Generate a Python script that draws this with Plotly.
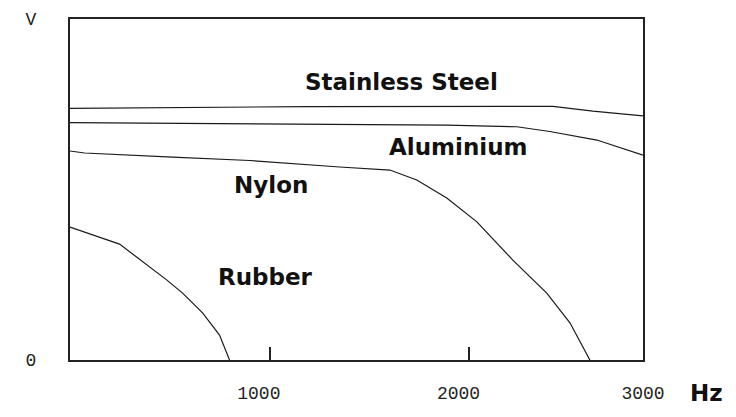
import plotly.graph_objects as go

# ---- data (Hz, relative V) ----
steel_hz = [0, 1190, 2419, 2619, 2870]
steel_v = [73.8, 74.3, 74.4, 73.0, 71.6]

alu_hz = [0, 900, 1887, 2238, 2403, 2639, 2870]
alu_v = [69.6, 69.2, 68.9, 68.4, 67.0, 64.5, 60.1]

nylon_hz = [0, 73, 514, 900, 1351, 1602, 1737, 1887, 2038, 2218, 2388, 2504, 2604]
nylon_v = [61.3, 60.7, 59.5, 58.5, 56.6, 55.7, 52.8, 47.5, 40.5, 29.3, 19.6, 10.9, 0]

rubber_hz = [0, 248, 484, 564, 664, 749, 799]
rubber_v = [39.0, 34.0, 23.5, 19.6, 13.8, 7.3, 0]

series_names = ["Stainless Steel", "Aluminium", "Nylon", "Rubber"]
label_hz = [1662, 1947, 1005, 980]
label_v = [81.5, 62.5, 51.3, 24.3]

x_tick_vals = [1000, 2000, 2870]
x_tick_text = ["1000", "2000", "3000"]
y_tick_vals = [0, 100]
y_tick_text = ["0", "V"]

X_MAX = 2870
Y_MAX = 100

fig = go.Figure()
for hz, v, name in [(steel_hz, steel_v, series_names[0]),
                    (alu_hz, alu_v, series_names[1]),
                    (nylon_hz, nylon_v, series_names[2]),
                    (rubber_hz, rubber_v, series_names[3])]:
    fig.add_trace(go.Scatter(x=hz, y=v, mode="lines", name=name,
                             line=dict(color="#1a1a1a", width=1.2),
                             showlegend=False, hoverinfo="skip", cliponaxis=False))

for name, hx, vy in zip(series_names, label_hz, label_v):
    fig.add_annotation(x=hx, y=vy, text=f"<b>{name}</b>", showarrow=False,
                       font=dict(family="DejaVu Sans", size=23, color="#111"))

fig.add_annotation(xref="paper", yref="paper", x=1, y=0, xanchor="left",
                   yanchor="middle", xshift=45, yshift=-33,
                   text="<b>Hz</b>", showarrow=False,
                   font=dict(family="DejaVu Sans", size=23, color="#111"))

# labels in the original sit slightly left of their tick marks
pad = "\u00a0\u00a0"
x_tick_shown = [t + pad for t in x_tick_text[:2]] + [x_tick_text[2]]

# the page adds an 8px body margin, so the figure is sized/offset to compensate
fig.update_layout(
    width=728, height=409,
    margin=dict(l=62, r=93, t=11, b=57, autoexpand=False),
    paper_bgcolor="white", plot_bgcolor="white",
    xaxis=dict(range=[0, X_MAX], showgrid=False, zeroline=False, automargin=False,
               showline=True, linewidth=2, linecolor="#222", mirror=True,
               tickvals=x_tick_vals, ticktext=x_tick_shown,
               ticks="inside", ticklen=13, tickwidth=2, tickcolor="#222",
               ticklabelstandoff=15,
               tickfont=dict(family="Liberation Mono", size=18, color="#222")),
    yaxis=dict(range=[0, Y_MAX], showgrid=False, zeroline=False, automargin=False,
               showline=True, linewidth=2, linecolor="#222", mirror=True,
               tickvals=y_tick_vals, ticktext=y_tick_text, ticks="",
               ticklabelstandoff=28,
               tickfont=dict(family="Liberation Mono", size=18, color="#222")),
)

fig.write_html("out.html")
